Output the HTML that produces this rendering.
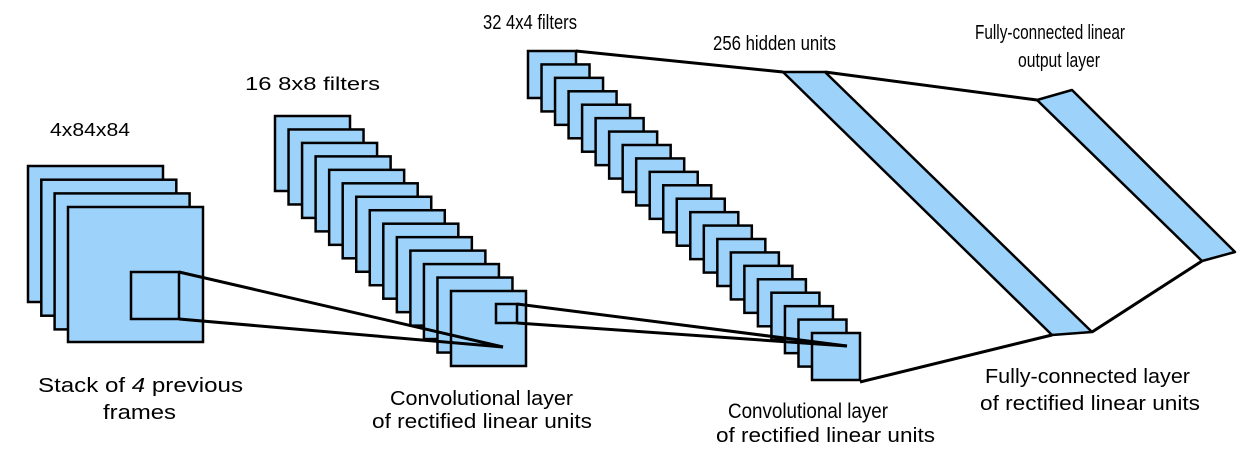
<!DOCTYPE html>
<html><head><meta charset="utf-8"><style>html,body{margin:0;padding:0;background:#fff}svg{display:block}</style></head>
<body>
<svg width="1257" height="458" viewBox="0 0 1257 458" xmlns="http://www.w3.org/2000/svg" font-family="Liberation Sans, sans-serif" fill="#000">
<g fill="#9dd3fb" stroke="#000" stroke-width="2.5">
<rect x="28" y="166" width="135" height="136"/>
<rect x="41.3" y="179.7" width="135" height="136"/>
<rect x="54.6" y="193.4" width="135" height="136"/>
<rect x="68" y="207" width="135" height="135"/>
<rect x="131" y="272" width="48" height="47"/>
</g>
<g fill="#9dd3fb" stroke="#000" stroke-width="2.5" id="c1"></g>
<g fill="#9dd3fb" stroke="#000" stroke-width="2.5" id="c2"></g>
<g stroke="#000" stroke-width="3" fill="none">
<line x1="179" y1="272" x2="503" y2="347"/>
<line x1="179" y1="319" x2="503" y2="347"/>
</g>
<rect x="496" y="304" width="21" height="19" fill="none" stroke="#000" stroke-width="2.5"/>
<g stroke="#000" stroke-width="3" fill="none">
<line x1="517" y1="304" x2="847" y2="346"/>
<line x1="517" y1="323" x2="847" y2="346"/>
<line x1="576" y1="51" x2="783" y2="72"/>
<line x1="825" y1="72" x2="1037" y2="100"/>
<line x1="1202" y1="261" x2="1092" y2="332"/>
<line x1="1052" y1="335" x2="860" y2="382"/>
</g>
<g fill="#9dd3fb" stroke="#000" stroke-width="2.5" stroke-linejoin="round">
<polygon points="783,72 825,72 1092,332 1052,335"/>
<polygon points="1037,100 1072,90 1235,252 1202,261"/>
</g>
<g font-size="18">
<text x="50" y="136" textLength="80" lengthAdjust="spacingAndGlyphs">4x84x84</text>
<text x="245" y="90" textLength="135" lengthAdjust="spacingAndGlyphs">16 8x8 filters</text>
<text x="483" y="29" font-size="20" textLength="94" lengthAdjust="spacingAndGlyphs">32 4x4 filters</text>
<text x="713" y="50" font-size="20" textLength="123" lengthAdjust="spacingAndGlyphs">256 hidden units</text>
<text x="975" y="39" font-size="20" textLength="150" lengthAdjust="spacingAndGlyphs">Fully-connected linear</text>
<text x="1018" y="67" font-size="20" textLength="82" lengthAdjust="spacingAndGlyphs">output layer</text>
</g>
<g font-size="20">
<text x="38" y="392" textLength="205" lengthAdjust="spacingAndGlyphs">Stack of <tspan font-style="italic">4</tspan> previous</text>
<text x="103" y="419" textLength="73" lengthAdjust="spacingAndGlyphs">frames</text>
<text x="390" y="405" textLength="183" lengthAdjust="spacingAndGlyphs">Convolutional layer</text>
<text x="372" y="428" textLength="220" lengthAdjust="spacingAndGlyphs">of rectified linear units</text>
<text x="728" y="418" font-size="21" textLength="160" lengthAdjust="spacingAndGlyphs">Convolutional layer</text>
<text x="716" y="442" textLength="219" lengthAdjust="spacingAndGlyphs">of rectified linear units</text>
<text x="985" y="383" textLength="205" lengthAdjust="spacingAndGlyphs">Fully-connected layer</text>
<text x="980" y="410" textLength="220" lengthAdjust="spacingAndGlyphs">of rectified linear units</text>
</g>
</svg>
<script>
var ns="http://www.w3.org/2000/svg";
function stack(id,n,x0,y0,w,h,x1,y1){var g=document.getElementById(id);for(var i=0;i<n;i++){var r=document.createElementNS(ns,"rect");var t=i/(n-1);r.setAttribute("x",x0+(x1-x0)*t);r.setAttribute("y",y0+(y1-y0)*t);r.setAttribute("width",w);r.setAttribute("height",h);g.appendChild(r);}}
stack("c1",14,275,116,75,75,451,291);
stack("c2",22,528,51,48,47,812,333);
</script>
</body></html>
